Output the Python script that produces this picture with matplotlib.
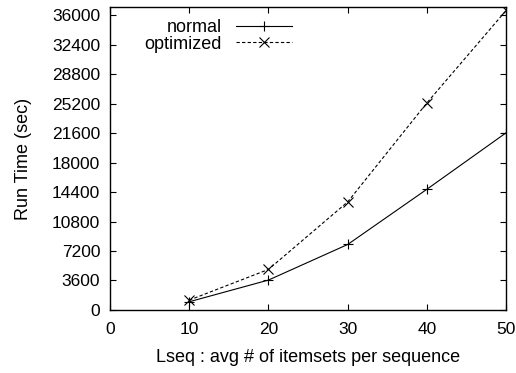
import matplotlib.pyplot as plt

# data
lseq = [10, 20, 30, 40, 50]
normal = [1000, 3650, 8000, 14750, 21650]
optimized = [1200, 4950, 13200, 25300, 36600]

x_ticks = [0, 10, 20, 30, 40, 50]
y_ticks = [0, 3600, 7200, 10800, 14400, 18000, 21600, 25200, 28800, 32400, 36000]

plt.rcParams["font.family"] = ["Liberation Sans", "DejaVu Sans"]
plt.rcParams["font.size"] = 13

fig = plt.figure(figsize=(5.16, 3.73), dpi=100)
ax = fig.add_axes([0.213, 0.169, 0.768, 0.812])

ax.plot(lseq, normal, "-", marker="+", color="black", lw=0.8, ms=7, mew=0.8, label="normal")
ax.plot(lseq, optimized, linestyle=(0, (3, 2)), marker="x", color="black", lw=0.8, ms=7, mew=0.8, label="optimized")

ax.set_xlim(0, 50)
ax.set_ylim(0, 37000)
ax.set_xticks(x_ticks)
ax.set_yticks(y_ticks)
ax.tick_params(direction="in", length=4, width=0.8, top=True, right=True, labelsize=12.5)
ax.tick_params(axis="y", pad=7)
ax.tick_params(axis="x", pad=9)
for s in ax.spines.values():
    s.set_linewidth(1.0)

ax.set_xlabel("Lseq : avg # of itemsets per sequence", labelpad=8)
ax.set_ylabel("Run Time (sec)", labelpad=14)

ax.legend(loc="upper right", bbox_to_anchor=(0.496, 1.007), frameon=False,
          markerfirst=False, handlelength=3.1, handletextpad=0.78,
          labelspacing=-0.05, borderpad=0.3, fontsize=13)

fig.savefig("out.png", dpi=100)
